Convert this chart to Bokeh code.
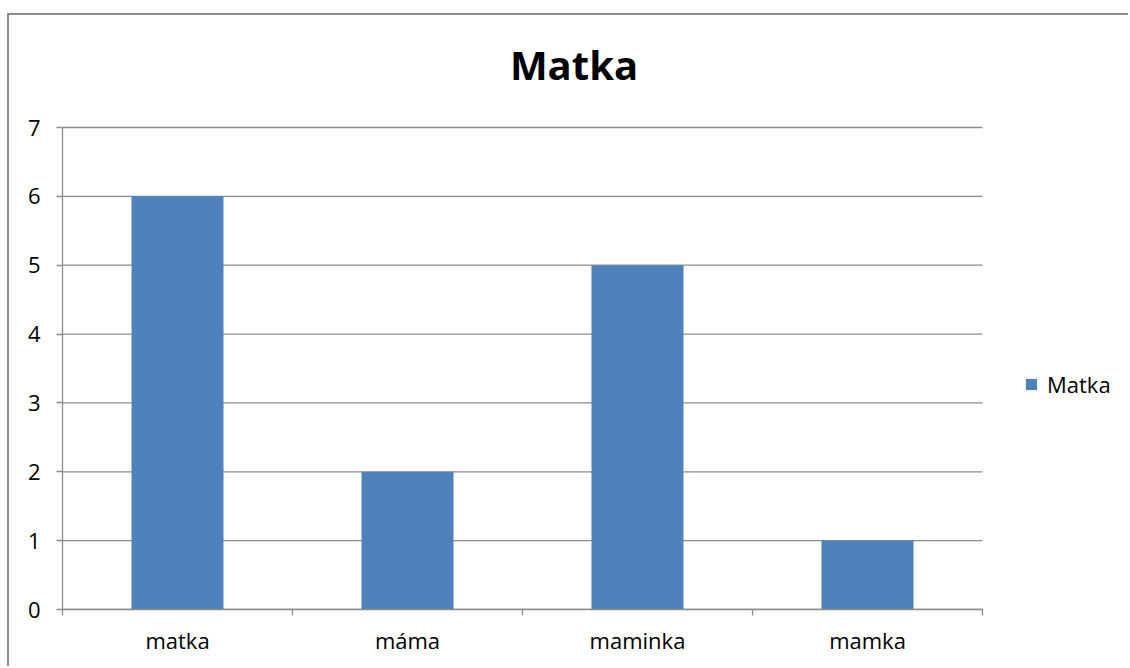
from bokeh.plotting import figure
from bokeh.models import ColumnDataSource, FixedTicker, Legend, LegendItem, Range1d, Label
from bokeh.embed import file_html
from bokeh.resources import INLINE

title_text = "Matka"
series_name = "Matka"
categories = ["matka", "máma", "maminka", "mamka"]
values = [6, 2, 5, 1]
y_ticks = [0, 1, 2, 3, 4, 5, 6, 7]

BAR = "#4F81BD"
GRAY = "#8c8c8c"
FONT = "Open Sans"

n = len(categories)
y_max = y_ticks[-1]
xs = [i + 0.5 for i in range(n)]
src = ColumnDataSource(dict(x=xs, top=values, cat=categories))
grid_src = ColumnDataSource(dict(y=y_ticks, x0=[0] * len(y_ticks), x1=[n] * len(y_ticks)))

# layout (pixels of the canvas)
W, H = 1121, 653
LEFT, BOTTOM = 53, 59
PX_X = 230          # pixels per category
PX_Y = 482 / y_max  # pixels per unit
frame_w, frame_h = W - LEFT, H - BOTTOM
x_end = frame_w / PX_X
y_end = frame_h / PX_Y

p = figure(width=W, height=H, x_range=Range1d(0, x_end),
           y_range=Range1d(0, y_end), output_backend="svg", toolbar_location=None,
           min_border_left=LEFT, min_border_right=0, min_border_top=0,
           min_border_bottom=BOTTOM)
p.margin = (13, 0, 0, 7)
p.styles = {"border-top": "2px solid #8c8c8c", "border-left": "2px solid #8c8c8c"}
p.outline_line_color = None
p.xgrid.visible = False
p.ygrid.visible = False

# gridlines
p.segment(x0="x0", x1="x1", y0="y", y1="y", source=grid_src,
          line_color=GRAY, line_width=1.3)

r = p.vbar(x="x", top="top", width=0.4, source=src, fill_color=BAR, line_color=None)

# title, centred over the whole chart
title = Label(x=(W / 2 - LEFT + 4) / PX_X, y=y_end - 49 / PX_Y, text=title_text,
              text_font=FONT, text_font_size="40px", text_font_style="bold",
              text_color="black", text_align="center", text_baseline="alphabetic")
p.add_layout(title)

p.yaxis.ticker = FixedTicker(ticks=y_ticks)
p.yaxis.bounds = (0, y_max)
p.yaxis.axis_line_color = GRAY
p.yaxis.axis_line_width = 1.3
p.yaxis.major_tick_line_color = GRAY
p.yaxis.major_tick_line_width = 1.3
p.yaxis.major_tick_out = 6
p.yaxis.major_tick_in = 0
p.yaxis.minor_tick_line_color = None
p.yaxis.major_label_standoff = 16
p.yaxis.major_label_text_font = FONT
p.yaxis.major_label_text_font_size = "22px"
p.yaxis.major_label_text_color = "black"

p.xaxis.ticker = FixedTicker(ticks=xs, minor_ticks=list(range(n + 1)))
p.xaxis.bounds = (0, n)
p.xaxis.major_label_overrides = {x: c for x, c in zip(xs, categories)}
p.xaxis.axis_line_color = GRAY
p.xaxis.axis_line_width = 1.3
p.xaxis.major_tick_line_color = None
p.xaxis.major_tick_out = 0
p.xaxis.major_tick_in = 0
p.xaxis.minor_tick_line_color = GRAY
p.xaxis.minor_tick_line_width = 1.3
p.xaxis.minor_tick_out = 6
p.xaxis.minor_tick_in = 0
p.xaxis.major_label_standoff = 9
p.xaxis.major_label_text_font = FONT
p.xaxis.major_label_text_font_size = "22px"
p.xaxis.major_label_text_color = "black"

legend = Legend(items=[LegendItem(label=series_name, renderers=[r])],
                location=(962, 210), padding=0, margin=0, border_line_color=None,
                background_fill_alpha=0, glyph_width=14, glyph_height=14,
                label_standoff=9, label_text_font=FONT, label_text_font_size="22px",
                label_text_color="black")
p.add_layout(legend, "center")

open("out.html", "w").write(file_html(p, INLINE))
